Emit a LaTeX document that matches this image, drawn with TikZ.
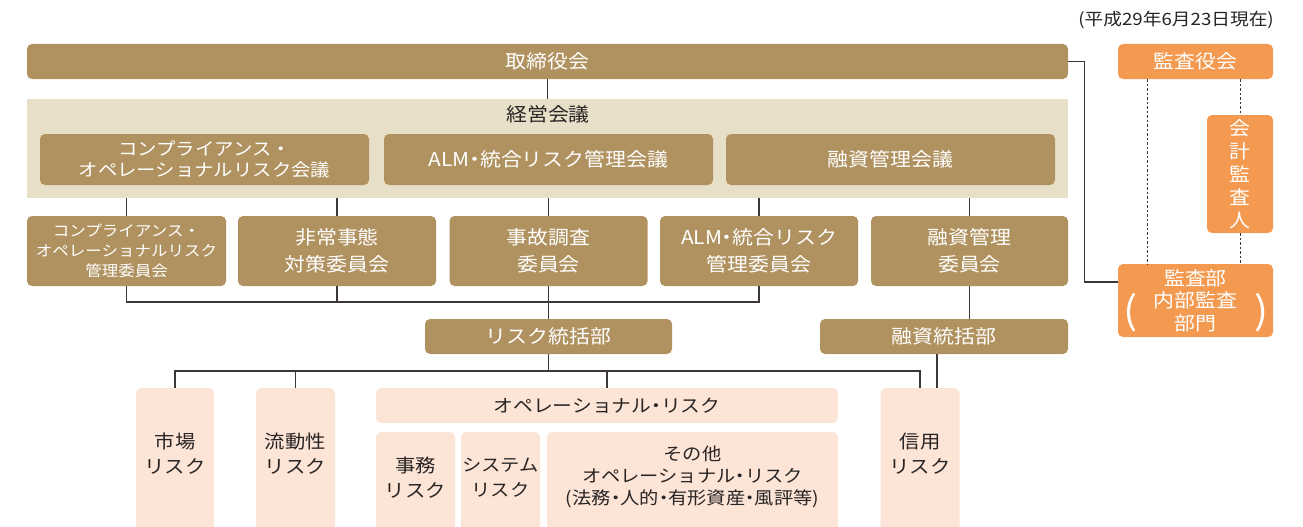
\documentclass[tikz,border=0pt]{standalone}
\usepackage{fontspec}
\setmainfont{Noto Sans CJK JP}[FakeStretch=1.1]
\usetikzlibrary{calc}
\definecolor{cbrown}{RGB}{176,146,96}
\definecolor{cbeige}{RGB}{232,223,200}
\definecolor{corange}{RGB}{243,154,80}
\definecolor{cpink}{RGB}{252,228,214}
\definecolor{cline}{RGB}{60,54,54}
\definecolor{cdark}{RGB}{40,36,36}
\newcommand\fsz[2]{\fontsize{#1}{#2}\selectfont}
\newcommand\nd{\kern-0.28em・\kern-0.28em}
\begin{document}
\begin{tikzpicture}[x=1pt,y=-1pt,
  bbox/.style={fill=cbrown, rounded corners=5pt, text=white, inner sep=0pt, align=center, font=\fsz{19}{26.5}},
  obox/.style={fill=corange, rounded corners=5pt, text=white, inner sep=0pt, align=center, font=\fsz{19}{23}},
  pbox/.style={fill=cpink, rounded corners=5pt, inner sep=0pt},
  ptext/.style={text=cdark, align=center, inner sep=0pt, font=\fsz{18.5}{25}},
  conn/.style={draw=cline, line width=1.3pt},
  dashline/.style={draw=cline, line width=0.9pt, dash pattern=on 2.5pt off 2pt}]
\useasboundingbox (0,0) rectangle (1303,527);

% date
\node[anchor=east, font=\fsz{17}{20}, text=cdark, inner sep=0pt] (date) at (1274,20) {(平成29年6月23日現在)};

% board
\node[bbox, minimum width=1041, minimum height=35] (board) at (547.5,61.5) {取締役会};

% audit side
\node[obox, minimum width=155, minimum height=35] (kyk) at (1195.5,61.5) {監査役会};
\node[obox, minimum width=66, minimum height=118] (kaikei) at (1240,174) {会\\計\\監\\査\\人};
\node[obox, minimum width=155, minimum height=73, font=\fsz{19}{22.5}] (kansabu) at (1195.5,300.5) {監査部\\内部監査\\部門};
\node[text=white, inner sep=0pt, font=\fsz{38}{38}] (lpar) at (1131,313) {(};
\node[text=white, inner sep=0pt, font=\fsz{38}{38}] (rpar) at (1262,313) {)};

% management meeting
\node[fill=cbeige, minimum width=1041, minimum height=99, inner sep=0pt] (keiei) at (547.5,148.5) {};
\node[text=cdark, inner sep=0pt, font=\fsz{19}{23}] (keieil) at (548,114) {経営会議};
\node[bbox, minimum width=329, minimum height=51, font=\fsz{17.6}{21.5}] (m1) at (204.5,159.5) {コンプライアンス・\\オペレーショナルリスク会議};
\node[bbox, minimum width=329, minimum height=51] (m2) at (548.5,159.5) {ALM\nd 統合リスク管理会議};
\node[bbox, minimum width=329, minimum height=51] (m3) at (890.5,159.5) {融資管理会議};

% committees
\node[bbox, minimum width=199, minimum height=70, font=\fsz{15}{20}] (c1) at (126.5,251) {コンプライアンス・\\オペレーショナルリスク\\管理委員会};
\node[bbox, minimum width=198, minimum height=70] (c2) at (337,251) {非常事態\\対策委員会};
\node[bbox, minimum width=198, minimum height=70] (c3) at (548.5,251) {事故調査\\委員会};
\node[bbox, minimum width=198, minimum height=70] (c4) at (759,251) {ALM\nd 統合リスク\\管理委員会};
\node[bbox, minimum width=197, minimum height=70] (c5) at (969.5,251) {融資管理\\委員会};

% departments
\node[bbox, minimum width=247, minimum height=35] (risk) at (548.5,336.5) {リスク統括部};
\node[bbox, minimum width=248, minimum height=35] (yushi) at (944,336.5) {融資統括部};

% risk boxes
\node[pbox, minimum width=78, minimum height=150] (b1) at (175,463) {};
\node[ptext] (t1) at (175,454) {市場\\リスク};
\node[pbox, minimum width=79, minimum height=150] (b2) at (295.5,463) {};
\node[ptext] (t2) at (295.5,454) {流動性\\リスク};
\node[pbox, minimum width=462, minimum height=35] (oph) at (607,405.5) {};
\node[ptext, font=\fsz{18}{21}] (toph) at (607,406) {オペレーショナル\nd リスク};
\node[pbox, minimum width=79, minimum height=150] (b3) at (415.5,507) {};
\node[ptext] (t3) at (415.5,478) {事務\\リスク};
\node[pbox, minimum width=79, minimum height=150] (b4) at (500.5,507) {};
\node[ptext, font=\fsz{17.5}{25}] (t4) at (500.5,478) {システム\\リスク};
\node[pbox, minimum width=291, minimum height=150] (b5) at (692.5,507) {};
\node[ptext, font=\fsz{17.5}{22}] (t5) at (692.5,477) {その他\\オペレーショナル\nd リスク\\(法務\nd 人的\nd 有形資産\nd 風評等)};
\node[pbox, minimum width=79, minimum height=150] (b6) at (920,463) {};
\node[ptext] (t6) at (920,454) {信用\\リスク};

% connectors
\coordinate (busA) at (0,302);
\coordinate (busB) at (0,371);
\coordinate (dl) at (1147,0);
\draw[conn] (board.south) -- (keiei.north);
\foreach \c in {c1,c2,c3,c4,c5} \draw[conn] (\c.north) -- (\c.north |- keiei.south);
\draw[conn] (c1.south) |- (c4.south |- busA) -- (c4.south);
\draw[conn] (c2.south) -- (c2.south |- busA);
\draw[conn] (c3.south) -- (risk.north);
\draw[conn] (c5.south) -- (c5.south |- yushi.north);
\draw[conn] (risk.south) -- (risk.south |- busB);
\draw[conn] (b1.north) |- (b6.north |- busB) -- (b6.north);
\draw[conn] (b2.north) -- (b2.north |- busB);
\draw[conn] (oph.north) -- (oph.north |- busB);
\draw[conn] ([xshift=17pt]b6.north) -- ([xshift=17pt]b6.north |- yushi.south);
\draw[conn] (board.east) -- ++(16.5,0) |- ([yshift=18.5pt]kansabu.west);
\draw[dashline] (kyk.south -| dl) -- (kansabu.north -| dl);
\draw[dashline] (kyk.south -| kaikei.north) -- (kaikei.north);
\draw[dashline] (kaikei.south) -- (kaikei.south |- kansabu.north);
\end{tikzpicture}
\end{document}
